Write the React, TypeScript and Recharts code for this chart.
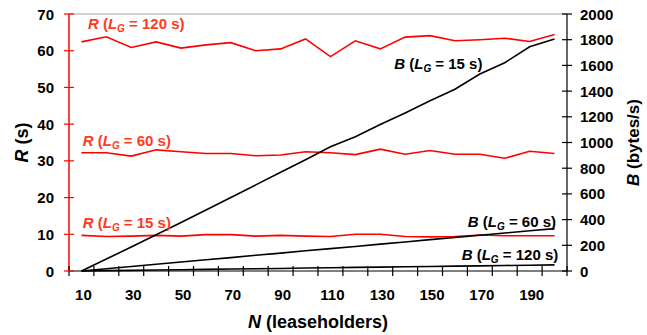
import React from 'react';
import { LineChart, Line, XAxis, YAxis, ReferenceLine, ReferenceDot } from 'recharts';

// N (leaseholders)
const categories = [10, 20, 30, 40, 50, 60, 70, 80, 90, 100, 110, 120, 130, 140, 150, 160, 170, 180, 190, 200];
const xLabels = [10, 30, 50, 70, 90, 110, 130, 150, 170, 190];

// R (s)
const r120 = [62.4, 63.8, 60.9, 62.4, 60.7, 61.6, 62.2, 60.0, 60.5, 63.2, 58.4, 62.7, 60.5, 63.7, 64.1, 62.7, 63.0, 63.4, 62.5, 64.4];
const r60 = [32.2, 32.2, 31.3, 33.0, 32.5, 32.0, 32.0, 31.4, 31.6, 32.5, 32.2, 31.7, 33.2, 31.8, 32.8, 31.8, 31.8, 30.7, 32.6, 32.0];
const r15 = [9.7, 9.4, 9.5, 9.7, 9.5, 9.9, 9.9, 9.5, 9.7, 9.5, 9.4, 10.0, 10.0, 9.4, 9.3, 9.4, 9.8, 9.6, 9.6, 9.6];

// B (bytes/s)
const b15 = [0, 93, 187, 282, 378, 475, 572, 670, 768, 866, 967, 1045, 1140, 1230, 1325, 1414, 1533, 1621, 1745, 1805];
const b60 = [0, 17, 35, 52, 70, 87, 104, 122, 139, 157, 174, 191, 209, 226, 244, 261, 278, 296, 313, 330];
const b120 = [0, 3, 5, 8, 10, 13, 15, 18, 20, 23, 25, 28, 30, 33, 35, 38, 40, 43, 45, 48];

const rTicks = [0, 10, 20, 30, 40, 50, 60, 70];
const bTicks = [0, 200, 400, 600, 800, 1000, 1200, 1400, 1600, 1800, 2000];

const data = categories.map((n, i) => ({
  n,
  r120: r120[i],
  r60: r60[i],
  r15: r15[i],
  b15: b15[i],
  b60: b60[i],
  b120: b120[i],
}));

// tick marks sit on category boundaries, labels on category centres
const xTicks = categories.flatMap((n) => [n - 5, n]).concat([205]);

const W = 647;
const H = 335;
const LEFT = 69;
const RIGHT_W = 80;
const TOP = 14;
const X_H = 64;
const plotBottom = H - X_H;
const plotRight = W - RIGHT_W;

const RED = '#ff0000';
const RED_TEXT = '#ff3a1c';
const FONT = '"Liberation Sans", Arial, sans-serif';

const XTick = (props: any) => {
  const { x, y, payload } = props;
  const v = payload.value;
  return (
    <g>
      {v % 10 === 5 && <line x1={x} x2={x} y1={y - 5} y2={y + 5} stroke="#000" strokeWidth={1.2} />}
      {xLabels.includes(v) && (
        <text x={x + 2} y={y + 29} textAnchor="middle" fontSize={15} fontWeight="bold" fill="#000" fontFamily={FONT}>
          {v}
        </text>
      )}
    </g>
  );
};

const RTick = (props: any) => {
  const { x, y, payload } = props;
  return (
    <g>
      <line x1={x - 5} x2={x + 5} y1={y} y2={y} stroke={RED} strokeWidth={1.2} />
      <text x={x - 15} y={y + 5.5} textAnchor="end" fontSize={15} fontWeight="bold" fill="#000" fontFamily={FONT}>
        {payload.value}
      </text>
    </g>
  );
};

const BTick = (props: any) => {
  const { x, y, payload } = props;
  return (
    <g>
      <line x1={x - 5} x2={x + 5} y1={y} y2={y} stroke="#000" strokeWidth={1.2} />
      <text x={x + 13} y={y + 5.5} textAnchor="start" fontSize={15} fontWeight="bold" fill="#000" fontFamily={FONT}>
        {payload.value}
      </text>
    </g>
  );
};

const SeriesLabel = (props: any) => {
  const { viewBox, sym, lg, color, anchor } = props;
  const x = viewBox ? viewBox.x + (viewBox.width || 0) / 2 : 0;
  const y = viewBox ? viewBox.y + (viewBox.height || 0) / 2 : 0;
  return (
    <text x={x} y={y} textAnchor={anchor} fontSize={15} fontWeight="bold" fill={color} fontFamily={FONT}>
      <tspan fontStyle="italic">{sym}</tspan>
      <tspan> (</tspan>
      <tspan fontStyle="italic">L</tspan>
      <tspan fontStyle="italic" fontSize={10} dy={3}>G</tspan>
      <tspan dy={-3}>{` = ${lg} s)`}</tspan>
    </text>
  );
};

const App = () => {
  return (
    <div style={{ position: 'absolute', left: 0, top: 0, width: W, height: H, background: '#fff' }}>
      <LineChart width={W} height={H} data={data} margin={{ top: TOP, right: 0, bottom: 0, left: 0 }} style={{ fontFamily: FONT }}>
        <XAxis
          dataKey="n"
          type="number"
          domain={[5, 205]}
          ticks={xTicks}
          interval={0}
          height={X_H}
          tickLine={false}
          tickSize={0}
          tickMargin={0}
          axisLine={{ stroke: '#000', strokeWidth: 1.2 }}
          tick={<XTick />}
          label={{
            content: () => (
              <text x={(LEFT + plotRight) / 2} y={plotBottom + 57} textAnchor="middle" fontSize={18} fontWeight="bold" fill="#000" fontFamily={FONT}>
                <tspan fontStyle="italic">N</tspan>
                <tspan> (leaseholders)</tspan>
              </text>
            ),
          }}
        />
        <YAxis
          yAxisId="r"
          domain={[0, 70]}
          ticks={rTicks}
          interval={0}
          width={LEFT}
          tickLine={false}
          tickSize={0}
          tickMargin={0}
          axisLine={{ stroke: RED, strokeWidth: 1.5 }}
          tick={<RTick />}
          label={{
            content: () => (
              <text
                x={22}
                y={(TOP + plotBottom) / 2}
                transform={`rotate(-90 22 ${(TOP + plotBottom) / 2})`}
                textAnchor="middle"
                dominantBaseline="central"
                fontSize={18}
                fontWeight="bold"
                fill="#000"
                fontFamily={FONT}
              >
                <tspan fontStyle="italic">R</tspan>
                <tspan> (s)</tspan>
              </text>
            ),
          }}
        />
        <YAxis
          yAxisId="b"
          orientation="right"
          domain={[0, 2000]}
          ticks={bTicks}
          interval={0}
          width={RIGHT_W}
          tickLine={false}
          tickSize={0}
          tickMargin={0}
          axisLine={{ stroke: '#000', strokeWidth: 1.2 }}
          tick={<BTick />}
          label={{
            content: () => (
              <text
                x={plotRight + 66}
                y={(TOP + plotBottom) / 2}
                transform={`rotate(-90 ${plotRight + 66} ${(TOP + plotBottom) / 2})`}
                textAnchor="middle"
                dominantBaseline="central"
                fontSize={17}
                fontWeight="bold"
                fill="#000"
                fontFamily={FONT}
              >
                <tspan fontStyle="italic">B</tspan>
                <tspan> (bytes/s)</tspan>
              </text>
            ),
          }}
        />
        <ReferenceLine yAxisId="r" y={70} stroke="#a6a6a6" strokeWidth={1.2} />

        <Line yAxisId="r" dataKey="r120" type="linear" stroke={RED} strokeWidth={1.6} dot={false} isAnimationActive={false} />
        <Line yAxisId="r" dataKey="r60" type="linear" stroke={RED} strokeWidth={1.6} dot={false} isAnimationActive={false} />
        <Line yAxisId="r" dataKey="r15" type="linear" stroke={RED} strokeWidth={1.6} dot={false} isAnimationActive={false} />
        <Line yAxisId="b" dataKey="b15" type="linear" stroke="#000" strokeWidth={1.6} dot={false} isAnimationActive={false} />
        <Line yAxisId="b" dataKey="b60" type="linear" stroke="#000" strokeWidth={1.6} dot={false} isAnimationActive={false} />
        <Line yAxisId="b" dataKey="b120" type="linear" stroke="#000" strokeWidth={1.6} dot={false} isAnimationActive={false} />

        <ReferenceDot yAxisId="r" x={12.6} y={65.8} r={0} fill="none" stroke="none"
          label={<SeriesLabel sym="R" lg={120} color={RED_TEXT} anchor="start" />} />
        <ReferenceDot yAxisId="r" x={10.5} y={34.0} r={0} fill="none" stroke="none"
          label={<SeriesLabel sym="R" lg={60} color={RED_TEXT} anchor="start" />} />
        <ReferenceDot yAxisId="r" x={10.5} y={11.7} r={0} fill="none" stroke="none"
          label={<SeriesLabel sym="R" lg={15} color={RED_TEXT} anchor="start" />} />
        <ReferenceDot yAxisId="b" x={135.6} y={1572} r={0} fill="none" stroke="none"
          label={<SeriesLabel sym="B" lg={15} color="#000" anchor="start" />} />
        <ReferenceDot yAxisId="b" x={200.6} y={342} r={0} fill="none" stroke="none"
          label={<SeriesLabel sym="B" lg={60} color="#000" anchor="end" />} />
        <ReferenceDot yAxisId="b" x={201.5} y={86} r={0} fill="none" stroke="none"
          label={<SeriesLabel sym="B" lg={120} color="#000" anchor="end" />} />
      </LineChart>
    </div>
  );
};

export default App;
